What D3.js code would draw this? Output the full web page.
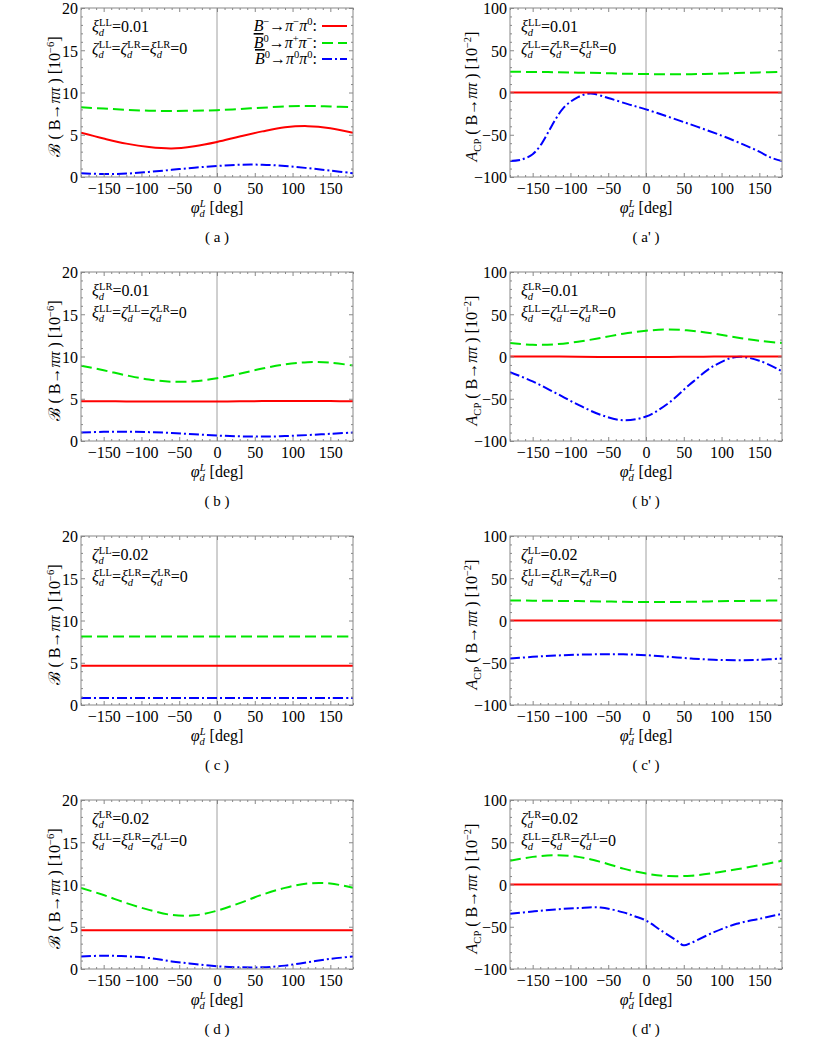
<!DOCTYPE html>
<html>
<head>
<meta charset="utf-8">
<script src="https://cdn.jsdelivr.net/npm/d3@7"></script>
<style>
body{margin:0;background:#fff}
svg, svg text{font-family:"Liberation Serif","DejaVu Serif",serif}
</style>
</head>
<body>
<svg id="chart" width="817" height="1037"></svg>
<script>
// phase grid (deg)
var phi=[-180,-150,-120,-90,-60,-30,0,30,60,90,120,150,180];

// (a) B(B->pipi) [1e-6], xi_LL = 0.01
var aRed  =[5.23,4.55,3.95,3.55,3.38,3.65,4.15,4.8,5.4,5.88,6.02,5.78,5.23];
var aGreen=[8.25,8.1,7.95,7.85,7.8,7.85,7.9,8.05,8.2,8.35,8.4,8.35,8.25];
var aBlue =[0.45,0.35,0.4,0.6,0.85,1.1,1.3,1.45,1.45,1.3,1.05,0.75,0.45];
// (a') ACP [1e-2]
var a2Red  =[0,0,0,0,0,0,0,0,0,0,0,0,0];
var a2Green=[24.5,24.3,24,23.5,23,22.3,21.8,21.5,21.7,22.3,23,23.8,24.5];
var phiA2Blue=[-180,-165,-150,-140,-130,-120,-110,-100,-90,-80,-70,-50,-25,0,50,100,130,150,165,180];
var a2Blue   =[-81,-79.5,-73,-63,-48,-32,-19,-11,-5.5,-2,-1.5,-6.5,-13.5,-20,-35,-51,-62,-70,-77,-81];

// (b) xi_LR = 0.01
var bRed  =[4.7,4.7,4.68,4.67,4.67,4.67,4.68,4.7,4.72,4.73,4.73,4.72,4.7];
var bGreen=[8.92,8.37,7.77,7.27,7.02,7.07,7.42,7.97,8.57,9.07,9.32,9.27,8.92];
var bBlue =[1.0,1.08,1.1,1.05,0.95,0.8,0.65,0.55,0.52,0.58,0.7,0.85,1.0];
// (b')
var b2Red  =[0,0,0,-0.3,-0.5,-0.6,-0.6,-0.5,-0.3,-0.1,0,0,0];
var b2Green=[16,13.8,14.5,17.5,22,27,30.5,32,30.5,27,22.5,18.5,16];
var b2Blue =[-18.5,-29.5,-43,-57,-69,-75.5,-71,-55,-31.5,-11,-0.5,-5,-17.6];

// (c) zeta_LL = 0.02
var cRed  =[4.65,4.65,4.65,4.65,4.65,4.65,4.65,4.65,4.65,4.65,4.65,4.65,4.65];
var cGreen=[8.12,8.12,8.12,8.12,8.12,8.12,8.12,8.12,8.12,8.12,8.12,8.12,8.12];
var cBlue =[0.83,0.83,0.83,0.83,0.83,0.83,0.83,0.83,0.83,0.83,0.83,0.83,0.83];
// (c')
var c2Red  =[0,0,0,0,0,0,0,0,0,0,0,0,0];
var c2Green=[23.7,23.5,23.2,23,22.6,22.1,21.8,21.9,22.2,22.7,23.1,23.4,23.7];
var c2Blue =[-45,-43,-41.5,-40.5,-40,-40,-41,-43,-45,-46.5,-47,-46.5,-45];

// (d) zeta_LR = 0.02
var dRed  =[4.6,4.6,4.6,4.6,4.6,4.6,4.6,4.6,4.6,4.6,4.6,4.6,4.6];
var dGreen=[9.6,8.75,7.8,7.0,6.4,6.35,6.9,7.8,8.8,9.6,10.12,10.12,9.6];
var dBlue =[1.47,1.58,1.5,1.3,0.9,0.6,0.32,0.2,0.2,0.4,0.8,1.2,1.47];
// (d')
var d2Red  =[0,0,0,0,0,0,0,0,0,0,0,0,0];
var d2Green=[28,32.7,34.7,32.7,26.7,18.8,12.9,10,10.5,13.7,18,22.8,28];
var phiD2Blue=[-180,-150,-120,-90,-60,-30,-15,0,20,40,50,60,90,120,150,180];
var d2Blue   =[-34.7,-31.9,-29.5,-27.9,-27.3,-33,-37.5,-42.6,-54.5,-66,-72,-69,-56.4,-46.5,-40.6,-34.7];

// ticks and labels
var xTicks=[-150,-100,-50,0,50,100,150];
var brTicks=[0,5,10,15,20];
var acpTicks=[-100,-50,0,50,100];
var panelLabels=["( a )","( a' )","( b )","( b' )","( c )","( c' )","( d )","( d' )"];
// [symbol, chirality, value] of the switched-on coupling per row
var annFirst=[["ξ","LL","0.01"],["ξ","LR","0.01"],["ζ","LL","0.02"],["ζ","LR","0.02"]];
var annRest=[[["ζ","LL"],["ζ","LR"],["ξ","LR"]],
             [["ξ","LL"],["ζ","LL"],["ζ","LR"]],
             [["ξ","LL"],["ξ","LR"],["ζ","LR"]],
             [["ξ","LL"],["ξ","LR"],["ζ","LL"]]];
var legendLabels=[
  [{t:"B",it:1},{t:"−",sh:"sup"},{t:"→"},{t:"π",it:1},{t:"−",sh:"sup"},{t:"π",it:1},{t:"0",sh:"sup"},{t:":"}],
  [{t:"B",it:1,ov:1},{t:"0",sh:"sup"},{t:"→"},{t:"π",it:1},{t:"+",sh:"sup"},{t:"π",it:1},{t:"−",sh:"sup"},{t:":"}],
  [{t:"B",it:1,ov:1},{t:"0",sh:"sup"},{t:"→"},{t:"π",it:1},{t:"0",sh:"sup"},{t:"π",it:1},{t:"0",sh:"sup"},{t:":"}]
];

var colors=["#ff0000","#00e600","#0000ff"];
var dashes=[null,"11,5","10,3,2,3"];
var serif="Liberation Serif";

var W=272,H=169,colX=[81,510],top0=8,rowStep=264;
var svg=d3.select("#chart");

// text with italic / sub / sup pieces
var rich=function(sel,parts){
  var off=0;
  sel.attr("font-family",serif);
  parts.forEach(function(p){
    var sh=p.sh=="sub"?4:(p.sh=="sup"?-6:0);
    sel.append("tspan")
      .attr("dy",sh-off)
      .attr("dx",p.dx||0)
      .style("font-size",p.sh?"10.5px":null)
      .style("font-style",p.it?"italic":null)
      .style("text-decoration",p.ov?"overline":null)
      .text(p.t);
    off=sh;
  });
};

var coupling=function(c){
  return [{t:c[0],it:1},{t:"d",it:1,sh:"sub"},{t:c[1],sh:"sup",dx:-5}];
};

var panels=[
  {kind:"br", series:[[phi,aRed],[phi,aGreen],[phi,aBlue]], legend:true},
  {kind:"acp",series:[[phi,a2Red],[phi,a2Green],[phiA2Blue,a2Blue]]},
  {kind:"br", series:[[phi,bRed],[phi,bGreen],[phi,bBlue]]},
  {kind:"acp",series:[[phi,b2Red],[phi,b2Green],[phi,b2Blue]]},
  {kind:"br", series:[[phi,cRed],[phi,cGreen],[phi,cBlue]]},
  {kind:"acp",series:[[phi,c2Red],[phi,c2Green],[phi,c2Blue]]},
  {kind:"br", series:[[phi,dRed],[phi,dGreen],[phi,dBlue]]},
  {kind:"acp",series:[[phi,d2Red],[phi,d2Green],[phiD2Blue,d2Blue]]}
];

var styleAxis=function(ax){
  ax.select(".domain").remove();
  ax.selectAll("line").attr("stroke","#888");
  ax.attr("font-size",16).attr("font-family",serif);
  ax.selectAll("text").attr("fill","#000").attr("font-family",serif);
};

var drawPanel=function(p,i){
  var row=Math.floor(i/2), x0=colX[i%2], y0=top0+rowStep*row;
  var isBr=p.kind=="br";
  var g=svg.append("g").attr("transform","translate("+x0+","+y0+")");

  var xScale=d3.scaleLinear().domain([-180,180]).range([0,W]);
  var yScale=d3.scaleLinear().domain(isBr?[0,20]:[-100,100]).range([H,0]);
  var yTicks=isBr?brTicks:acpTicks;
  var xMinor=d3.range(-180,181,10).filter(function(v){return xTicks.indexOf(v)<0;});
  var yMinor=(isBr?d3.range(0,21,1):d3.range(-100,101,10)).filter(function(v){return yTicks.indexOf(v)<0;});

  g.append("clipPath").attr("id","clip"+i)
    .append("rect").attr("width",W).attr("height",H);

  // zero line
  g.append("line")
    .attr("x1",xScale(0)).attr("x2",xScale(0))
    .attr("y1",0).attr("y2",H)
    .attr("stroke","#888").attr("stroke-width",0.8);

  // curves
  var line=d3.line()
    .x(function(d){return xScale(d[0]);})
    .y(function(d){return yScale(d[1]);})
    .curve(d3.curveCatmullRom.alpha(0.5));
  [2,1,0].forEach(function(k){
    g.append("path")
      .datum(d3.zip(p.series[k][0],p.series[k][1]))
      .attr("d",line)
      .attr("clip-path","url(#clip"+i+")")
      .attr("fill","none")
      .attr("stroke",colors[k])
      .attr("stroke-width",2)
      .attr("stroke-dasharray",dashes[k]);
  });

  // frame
  g.append("rect").attr("width",W).attr("height",H)
    .attr("fill","none").attr("stroke","#888").attr("stroke-width",1);

  // ticks, pointing inward on all four sides
  var bx=g.append("g").attr("transform","translate(0,"+H+")")
    .call(d3.axisBottom(xScale).tickValues(xTicks).tickSizeInner(-4).tickSizeOuter(0).tickPadding(6)
      .tickFormat(d3.format("d")));
  styleAxis(bx);
  styleAxis(g.append("g").attr("transform","translate(0,"+H+")")
    .call(d3.axisBottom(xScale).tickValues(xMinor).tickSize(-2).tickFormat("")));
  styleAxis(g.append("g")
    .call(d3.axisTop(xScale).tickValues(xTicks).tickSize(-4).tickFormat("")));
  styleAxis(g.append("g")
    .call(d3.axisTop(xScale).tickValues(xMinor).tickSize(-2).tickFormat("")));
  var ly=g.append("g")
    .call(d3.axisLeft(yScale).tickValues(yTicks).tickSizeInner(-4).tickSizeOuter(0).tickPadding(3)
      .tickFormat(d3.format("d")));
  styleAxis(ly);
  ly.selectAll("text").attr("dy","0.36em");
  styleAxis(g.append("g")
    .call(d3.axisLeft(yScale).tickValues(yMinor).tickSize(-2).tickFormat("")));
  styleAxis(g.append("g").attr("transform","translate("+W+",0)")
    .call(d3.axisRight(yScale).tickValues(yTicks).tickSize(-4).tickFormat("")));
  styleAxis(g.append("g").attr("transform","translate("+W+",0)")
    .call(d3.axisRight(yScale).tickValues(yMinor).tickSize(-2).tickFormat("")));

  // axis titles
  rich(g.append("text").attr("x",W/2).attr("y",H+36).attr("text-anchor","middle").attr("font-size",16),
    [{t:"φ",it:1},{t:"d",it:1,sh:"sub"},{t:"L",it:1,sh:"sup",dx:-5},{t:" [deg]"}]);
  var yl=g.append("text")
    .attr("transform","translate("+(isBr?-21:-33)+","+(H/2+4)+") rotate(-90)")
    .attr("text-anchor","middle").attr("font-size",16);
  if(isBr){
    rich(yl,[{t:"ℬ"},{t:" ( B→"},{t:"ππ",it:1},{t:" ) [10"},{t:"−6",sh:"sup"},{t:"]"}]);
  } else {
    rich(yl,[{t:"A",it:1},{t:"CP",sh:"sub"},{t:" ( B→"},{t:"ππ",it:1},{t:" ) [10"},{t:"−2",sh:"sup"},{t:"]"}]);
  }

  // panel tag
  g.append("text").attr("x",W/2).attr("y",H+65).attr("text-anchor","middle")
    .attr("font-family",serif).attr("font-size",15).text(panelLabels[i]);

  // coupling annotations
  var f=annFirst[row];
  rich(g.append("text").attr("x",11).attr("y",24).attr("font-size",16),
    coupling(f).concat([{t:"="+f[2]}]));
  var parts=[];
  annRest[row].forEach(function(c,j){
    if(j>0) parts.push({t:"="});
    parts=parts.concat(coupling(c));
  });
  parts.push({t:"=0"});
  rich(g.append("text").attr("x",11).attr("y",46).attr("font-size",16),parts);

  // legend
  if(p.legend){
    var ly0=[18,35,51];
    legendLabels.forEach(function(lab,k){
      g.append("line").attr("x1",W-31).attr("x2",W-6)
        .attr("y1",ly0[k]).attr("y2",ly0[k])
        .attr("stroke",colors[k]).attr("stroke-width",2)
        .attr("stroke-dasharray",dashes[k]);
      rich(g.append("text").attr("x",W-36).attr("y",ly0[k]+5)
        .attr("text-anchor","end").attr("font-size",16),lab);
    });
  }
};

panels.forEach(drawPanel);
</script>
</body>
</html>
